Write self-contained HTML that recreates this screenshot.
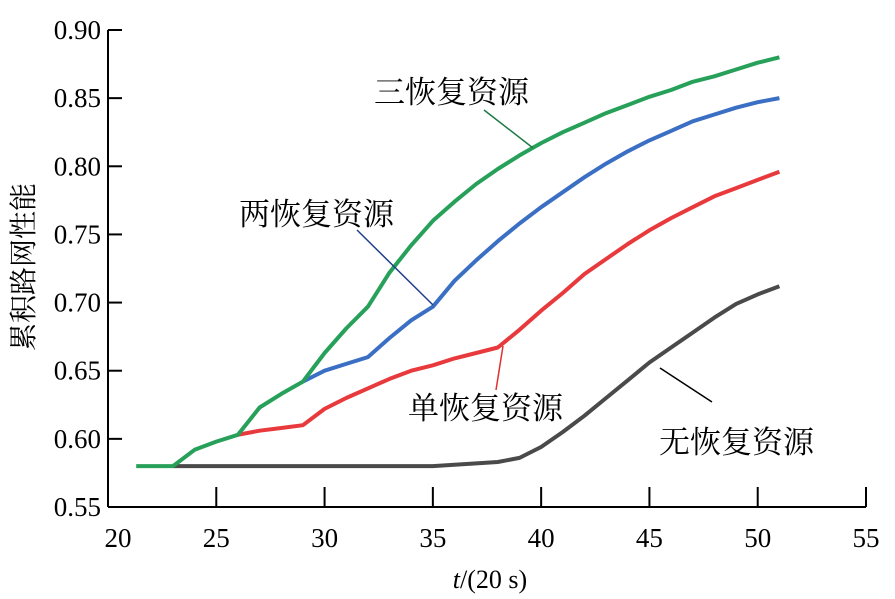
<!DOCTYPE html>
<html><head><meta charset="utf-8">
<style>
html,body{margin:0;padding:0;background:#fff;}
svg{display:block;font-family:"Liberation Serif","Noto Serif CJK SC",serif;}
</style></head>
<body>
<svg id="chart" width="895" height="599" viewBox="0 0 895 599" xmlns="http://www.w3.org/2000/svg">
<g id="axes"></g>
<g id="series"></g>
<g id="annot"></g>
</svg>
<script>
const xTicks = [20,25,30,35,40,45,50,55];
const yTicks = [0.55,0.60,0.65,0.70,0.75,0.80,0.85,0.90];
const greenT = [21.3,22,23,24,25,26,27,28,29,30,31,32,33,34,35,36,37,38,39,40,41,42,43,44,45,46,47,48,49,50,51];
const greenV = [0.58,0.58,0.58,0.592,0.598,0.603,0.623,0.633,0.642,0.663,0.681,0.697,0.722,0.742,0.760,0.774,0.787,0.798,0.808,0.817,0.825,0.832,0.839,0.845,0.851,0.856,0.862,0.866,0.871,0.876,0.880];
const blueT = [29,30,31,32,33,34,35,36,37,38,39,40,41,42,43,44,45,46,47,48,49,50,51];
const blueV = [0.642,0.650,0.655,0.660,0.674,0.687,0.697,0.716,0.731,0.745,0.758,0.770,0.781,0.792,0.802,0.811,0.819,0.826,0.833,0.838,0.843,0.847,0.850];
const redT = [26,27,28,29,30,31,32,33,34,35,36,37,38,39,40,41,42,43,44,45,46,47,48,49,50,51];
const redV = [0.603,0.606,0.608,0.610,0.622,0.630,0.637,0.644,0.650,0.654,0.659,0.663,0.667,0.680,0.694,0.707,0.721,0.732,0.743,0.753,0.762,0.770,0.778,0.784,0.790,0.796];
const blackT = [23,24,25,26,27,28,29,30,31,32,33,34,35,36,37,38,39,40,41,42,43,44,45,46,47,48,49,50,51];
const blackV = [0.58,0.58,0.58,0.58,0.58,0.58,0.58,0.58,0.58,0.58,0.58,0.58,0.58,0.581,0.582,0.583,0.586,0.594,0.605,0.617,0.630,0.643,0.656,0.667,0.678,0.689,0.699,0.706,0.712];

const NS="http://www.w3.org/2000/svg";
const X0=108, X1=866, Y0=507, Y1=30;
function xs(t){return X0+(t-20)/(55-20)*(X1-X0);}
function ys(v){return Y0-(v-0.55)/(0.90-0.55)*(Y0-Y1);}
function mk(tag,attrs,parent){const e=document.createElementNS(NS,tag);for(const k in attrs)e.setAttribute(k,attrs[k]);parent.appendChild(e);return e;}
const axes=document.getElementById('axes');
let yAxis=mk('line',{x1:X0,y1:Y1,x2:X0,y2:Y0,stroke:'#000','stroke-width':2},axes);


let xAxis=mk('line',{x1:X0,y1:Y0,x2:X1,y2:Y0,stroke:'#000','stroke-width':2},axes);


xTicks.forEach(t=>{
  if(t!==20){let l=mk('line',{x1:xs(t),y1:Y0,x2:xs(t),y2:Y0-20,stroke:'#000','stroke-width':2},axes);
  
  }
  let tx=mk('text',{x:xs(t)+(t===20?10:0),y:547,'font-size':27,'text-anchor':'middle'},axes);
  tx.textContent=t;
  
  
});
yTicks.forEach(v=>{
  if(v!==0.55){let l=mk('line',{x1:X0,y1:ys(v),x2:X0+14,y2:ys(v),stroke:'#000','stroke-width':2},axes);
  
  }
  let tx=mk('text',{x:X0-7,y:ys(v)+9,'font-size':27,'text-anchor':'end'},axes);
  tx.textContent=v.toFixed(2);
  
  
});
let xt=mk('text',{x:490,y:588,'font-size':26,'text-anchor':'middle'},axes);
xt.innerHTML='<tspan font-style="italic">t</tspan>/(20 s)';


let yt=mk('text',{x:0,y:0,'font-size':28,'text-anchor':'middle',transform:'translate(33,267) rotate(-90)'},axes);
yt.textContent='累积路网性能';



const ser=document.getElementById('series');
function line(T,V,color,name){
  const d=T.map((t,i)=>(i?'L':'M')+xs(t).toFixed(1)+','+ys(V[i]).toFixed(1)).join(' ');
  let p=mk('path',{d:d,fill:'none',stroke:color,'stroke-width':4,'stroke-linejoin':'round'},ser);
  
  
}
line(blackT,blackV,'#4a4a4a','series-no-recovery');
line(redT,redV,'#e8393c','series-single-recovery');
line(blueT,blueV,'#3a6fc4','series-two-recovery');
line(greenT,greenV,'#27a05a','series-three-recovery');

const an=document.getElementById('annot');
function label(txt,x,y,name,lx1,ly1,lx2,ly2,color){
  let l=mk('line',{x1:lx1,y1:ly1,x2:lx2,y2:ly2,stroke:color,'stroke-width':1.5},an);
  
  
  let t=mk('text',{x:x,y:y,'font-size':31},an);
  t.textContent=txt;
  
  
}
label('三恢复资源',374,103,'label-three-recovery',484,110,533,148,'#1e7a45');
label('两恢复资源',239,225,'label-two-recovery',357,230,433,305,'#1f3f8a');
label('单恢复资源',408,419,'label-single-recovery',496,390,503,346,'#e03030');
label('无恢复资源',659,453,'label-no-recovery',712,402,660,368,'#000');
</script>
</body></html>
